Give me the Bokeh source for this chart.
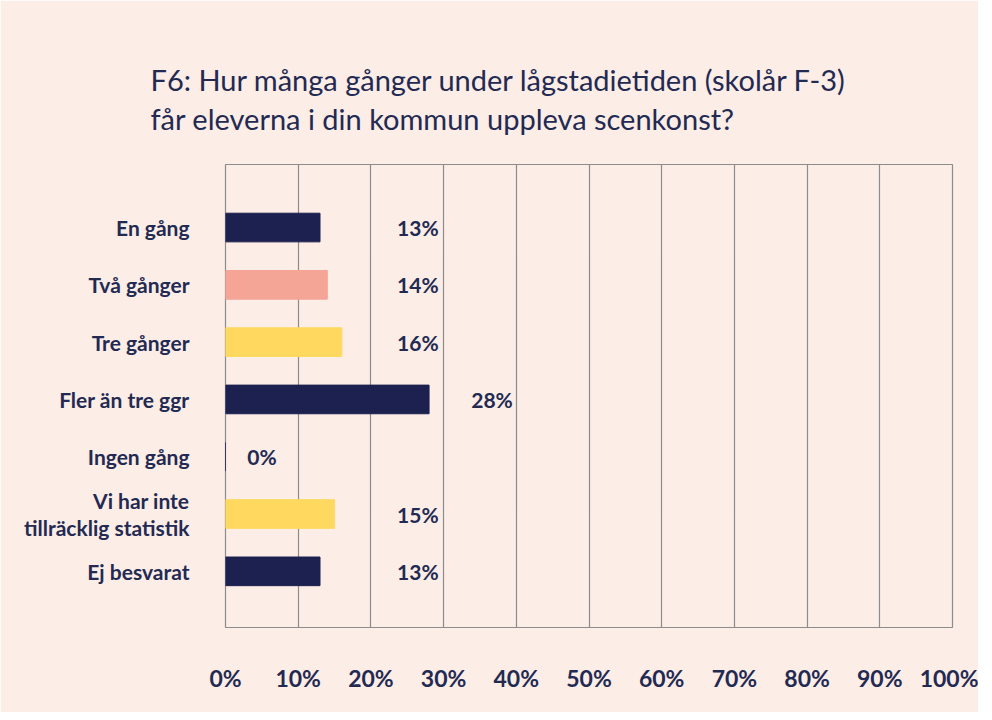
from bokeh.plotting import figure
from bokeh.models import (ColumnDataSource, Range1d, FixedTicker,
                          CustomJSTickFormatter, Title)
from bokeh.core.properties import value
from bokeh.embed import file_html
from bokeh.resources import INLINE

# ---- data ----
categories = ["En gång", "Två gånger", "Tre gånger", "Fler än tre ggr",
              "Ingen gång", "Vi har inte\ntillräcklig statistik", "Ej besvarat"]
values = [13, 14, 16, 28, 0, 15, 13]
value_labels = ["13%", "14%", "16%", "28%", "0%", "15%", "13%"]
x_ticks = [0, 10, 20, 30, 40, 50, 60, 70, 80, 90, 100]

NAVY = "#1d2150"
SALMON = "#f4a596"
YELLOW = "#ffd95f"
PINK = "#fcede7"
TEXT = "#232a52"
FONT = "Lato"

bar_colors = [NAVY, SALMON, YELLOW, NAVY, NAVY, YELLOW, NAVY]

n = len(categories)
ypos = [n - 1 - i for i in range(n)]  # first category at the top

# label placement rule (styling): fixed column unless bar is long, zero near axis
label_x = []
for v in values:
    if v == 0:
        label_x.append(v + 3.0)
    elif v > 22:
        label_x.append(v + 5.8)
    else:
        label_x.append(23.6)

src = ColumnDataSource(dict(y=ypos, cat=categories, val=values, color=bar_colors,
                            lab=value_labels, lx=label_x))

p = figure(width=978, height=712, output_backend="svg", toolbar_location=None,
           y_range=Range1d(-0.98, n - 1 + 1.10), x_range=Range1d(0, 100),
           min_border_left=225, min_border_right=26, min_border_top=164,
           min_border_bottom=85)

p.background_fill_color = PINK
p.border_fill_color = PINK
p.outline_line_color = "#8c8c8c"
p.outline_line_width = 1.2

p.hbar(y="y", right="val", left=0, height=0.5, color="color", source=src)

p.text(x="lx", y="y", text="lab", source=src, text_align="left",
       text_baseline="middle", text_font=value(FONT), text_font_size="21px",
       text_color=TEXT, text_font_style="bold")

# y axis carries the category labels
p.yaxis.ticker = FixedTicker(ticks=ypos)
p.yaxis.major_label_overrides = {yv: cat for yv, cat in zip(ypos, categories)}
p.yaxis.axis_line_color = None
p.yaxis.major_tick_line_color = None
p.yaxis.minor_tick_line_color = None
p.yaxis.major_label_standoff = 30
p.yaxis.major_label_text_font = FONT
p.yaxis.major_label_text_font_size = "21px"
p.yaxis.major_label_text_font_style = "bold"
p.yaxis.major_label_text_color = TEXT
p.yaxis.major_label_text_line_height = 1.1
p.ygrid.grid_line_color = None

# x axis
p.xgrid.ticker = FixedTicker(ticks=x_ticks)
p.xgrid.grid_line_color = "#8c8c8c"
p.xgrid.grid_line_width = 1.2
p.xaxis.ticker = FixedTicker(ticks=x_ticks)
p.xaxis.formatter = CustomJSTickFormatter(code="return tick + '%';")
p.xaxis.axis_line_color = None
p.xaxis.major_tick_line_color = None
p.xaxis.minor_tick_line_color = None
p.xaxis.major_label_standoff = 30
p.xaxis.major_label_text_font = FONT
p.xaxis.major_label_text_font_size = "23px"
p.xaxis.major_label_text_color = TEXT
p.xaxis.major_label_text_font_style = "bold"

# title
p.title = Title(text="F6: Hur många gånger under lågstadietiden (skolår F-3)\n"
                     "får eleverna i din kommun uppleva scenkonst?",
                align="left", offset=-75, standoff=58,
                text_font=FONT, text_font_size="29px", text_font_style="normal",
                text_color=TEXT, text_line_height=1.1)

open("out.html", "w").write(file_html(p, INLINE))
